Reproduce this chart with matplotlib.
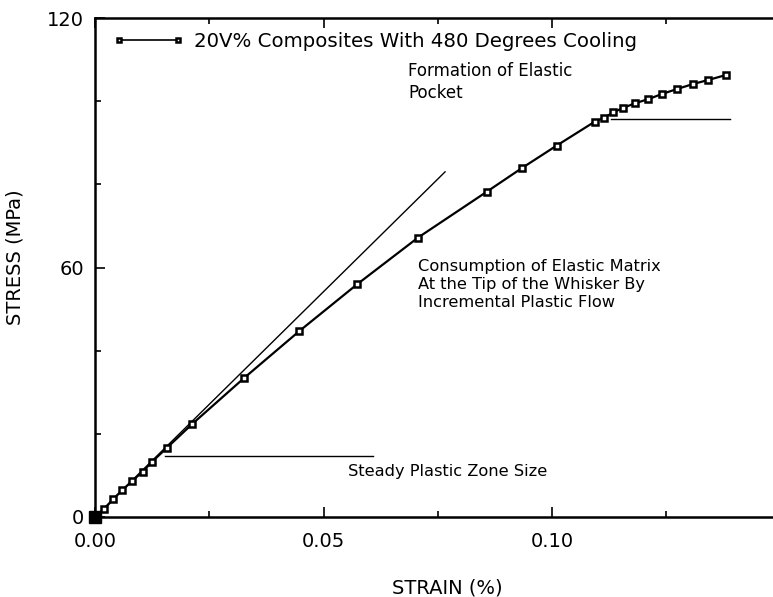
import matplotlib
matplotlib.use('Agg')
import matplotlib.pyplot as plt
from matplotlib.ticker import MultipleLocator

# ── Data ─────────────────────────────────────────────────────────────────────
strain = [0.0, 0.0020, 0.0040, 0.0060, 0.0082, 0.0104, 0.0124, 0.0157, 0.0212,
          0.0326, 0.0447, 0.0574, 0.0707, 0.0857, 0.0934, 0.1010, 0.1094,
          0.1114, 0.1134, 0.1156, 0.1182, 0.1211, 0.1240, 0.1273, 0.1308,
          0.1342, 0.1381]
stress = [0.0, 1.9, 4.3, 6.5, 8.7, 10.9, 13.2, 16.6, 22.3,
          33.4, 44.7, 56.0, 67.2, 78.2, 83.9, 89.3, 95.1,
          96.0, 97.3, 98.4, 99.5, 100.5, 101.7, 102.9, 104.1,
          105.1, 106.3]

elastic_x = [0.0, 0.0766]          # initial elastic slope
elastic_y = [0.0, 83.0]
steady_x = [0.0153, 0.0608]        # steady plastic zone marker
steady_y = [14.7, 14.7]
pocket_x = [0.1130, 0.1390]        # elastic pocket marker
pocket_y = [95.7, 95.7]

legend_label = "20V% Composites With 480 Degrees Cooling"

plt.rcParams['font.family'] = ['DejaVu Sans']

fig = plt.figure(figsize=(7.73, 5.97), dpi=100)
ax = fig.add_axes([95 / 773, 80 / 597, 678 / 773, 499 / 597])

ax.plot(elastic_x, elastic_y, color="black", lw=1.0)
ax.plot(steady_x, steady_y, color="black", lw=1.0)
ax.plot(pocket_x, pocket_y, color="black", lw=1.0)

ax.plot(strain, stress, color="black", lw=1.6, marker="s", ms=5,
        mfc="white", mec="black", mew=1.8, label=legend_label, clip_on=False)
ax.plot(strain[:1], stress[:1], marker="s", ms=8, color="black",
        ls="none", clip_on=False)

ax.set_xlim(0, 678 / 4570)
ax.set_ylim(0, 120)

ax.xaxis.set_major_locator(MultipleLocator(0.05))
ax.xaxis.set_minor_locator(MultipleLocator(0.025))
ax.yaxis.set_major_locator(MultipleLocator(60))
ax.yaxis.set_minor_locator(MultipleLocator(20))
ax.xaxis.set_major_formatter(lambda v, p: f"{v:.2f}")
ax.yaxis.set_major_formatter(lambda v, p: f"{v:.0f}")

ax.tick_params(which="both", direction="in", top=True, right=False,
               labelsize=14, width=1.2)
ax.tick_params(which="major", length=7, pad=11)
ax.tick_params(which="minor", length=4)
ax.tick_params(axis="y", pad=8)

for side in ["left", "bottom", "top"]:
    ax.spines[side].set_linewidth(1.8)
ax.spines["right"].set_visible(False)

ax.set_xlabel("STRAIN (%)", fontsize=14)
ax.xaxis.set_label_coords(352 / 678, -62 / 499)
ax.set_ylabel("STRESS (MPa)", fontsize=14)
ax.yaxis.set_label_coords(-70 / 678, 0.52)

ax.text(0.0685, 109.5, "Formation of Elastic\nPocket", fontsize=12,
        va="top", ha="left", linespacing=1.3)
ax.text(0.0707, 62.0, "Consumption of Elastic Matrix\nAt the Tip of the Whisker By\nIncremental Plastic Flow",
        fontsize=11.7, va="top", ha="left", linespacing=1.25)
ax.text(0.0554, 11.0, "Steady Plastic Zone Size", fontsize=11.7,
        va="center", ha="left")

leg = ax.legend(loc="upper left", bbox_to_anchor=(0.015, 0.988), frameon=False,
                fontsize=14.2, handlelength=3.6, handletextpad=0.5, numpoints=2,
                borderaxespad=0, markerscale=0.7)
for h in leg.legend_handles:
    h.set_linewidth(1.2)

fig.savefig("out.png", dpi=100)
